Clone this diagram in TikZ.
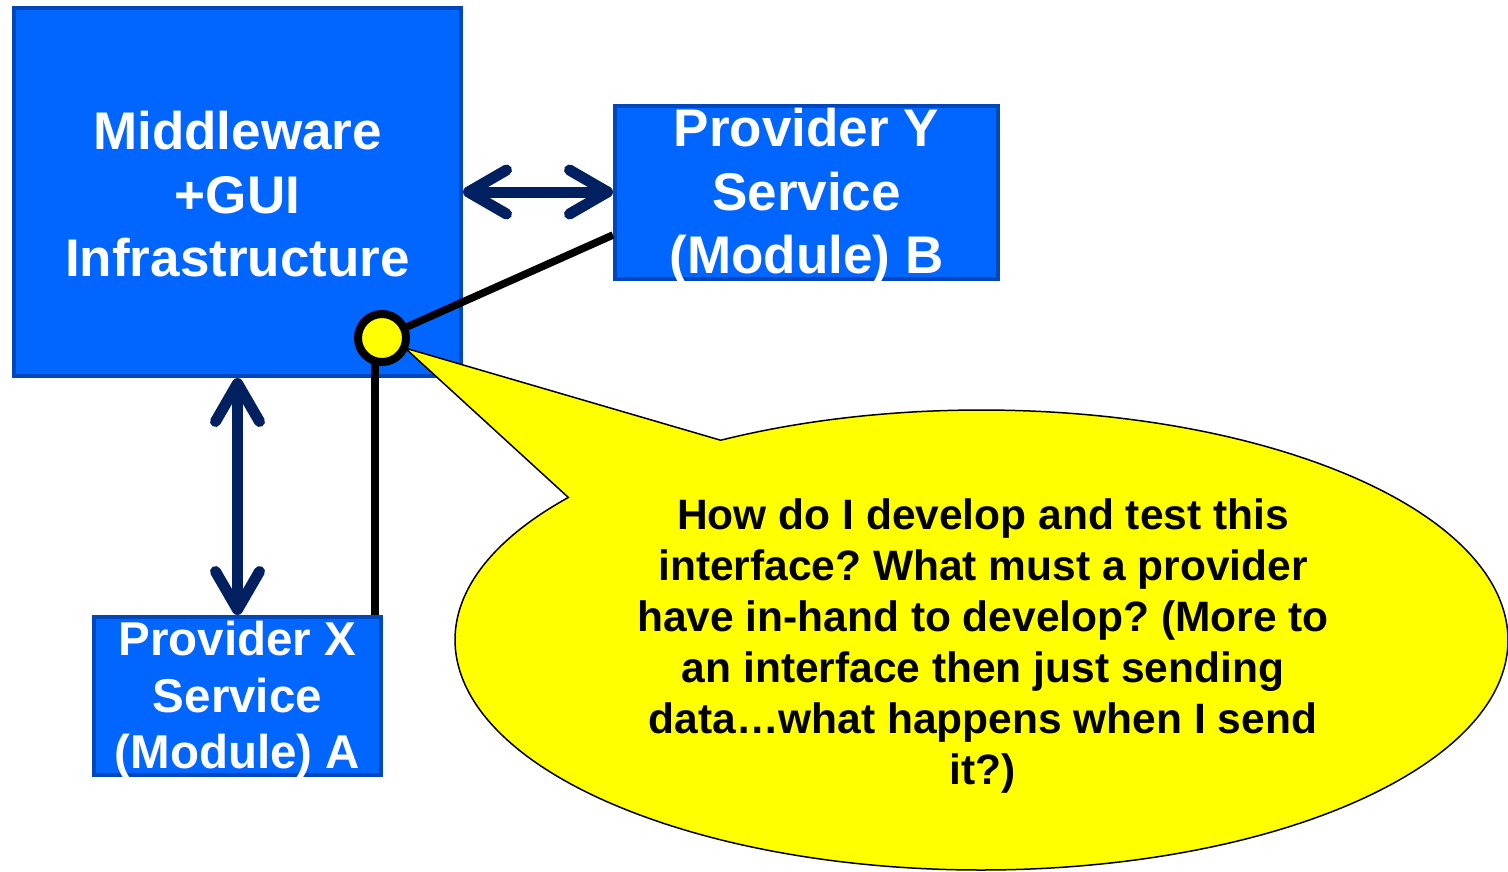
\documentclass[tikz,border=0pt]{standalone}
\usepackage{fontspec}
\setmainfont{Liberation Sans}
\usetikzlibrary{arrows.meta,calc}
\definecolor{boxfill}{HTML}{0066FF}
\definecolor{boxline}{HTML}{0047BB}
\definecolor{navy}{HTML}{002060}
\definecolor{noteyellow}{HTML}{FFFF00}
\frenchspacing
\begin{document}
\begin{tikzpicture}[x=1pt,y=-1pt,
  module/.style={draw=boxline, line width=4pt, fill=boxfill, inner sep=0pt},
  boxtext/.style={text=white, font=\bfseries\fontsize{53}{63.5}\selectfont, align=center, inner sep=0pt},
  smalltext/.style={text=white, font=\bfseries\fontsize{47.5}{56.5}\selectfont, align=center, inner sep=0pt},
  link/.style={navy, line width=11pt,
    {Straight Barb[length=38pt, width=44pt, round]}-{Straight Barb[length=38pt, width=44pt, round]}},
  wire/.style={black, line width=7.5pt},
  port/.style={circle, draw=black, line width=8pt, fill=noteyellow, minimum size=48pt, inner sep=0pt},
  callout/.style={draw=black, line width=1.5pt, fill=noteyellow},
  notetext/.style={font=\bfseries\fontsize{42.5}{51}\selectfont, align=center, inner sep=0pt}
]
\useasboundingbox (0,0) rectangle (1508,871);

% service boxes
\node[module, minimum width=447, minimum height=368,
      label={[boxtext, yshift=-2.5pt]center:Middleware\\+GUI\\Infrastructure}] (mw) at (237.5,192) {};
\node[module, minimum width=383, minimum height=173,
      label={[boxtext, yshift=-4pt]center:Provider Y\\Service\\(Module) B}] (provY) at (806.5,192.5) {};
\node[module, minimum width=287, minimum height=158,
      label={[smalltext, yshift=-4pt]center:Provider X\\Service\\(Module) A}] (provX) at (237.5,696) {};

% message flows
\draw[link] (mw.east) -- (mw.east -| provY.west);
\draw[link] (mw.south) -- (provX.north);

% interface wiring
\coordinate (portc) at (382,338);
\coordinate (ywire) at ($(provY.west)+(0,42.5)$);
\coordinate (xwire) at ($(provX.north east)+(-8,0)$);
\draw[wire] (portc) -- (ywire);
\draw[wire] (portc -| xwire) -- (xwire);

% speech bubble
\coordinate (cc) at (981.5,640);
\coordinate (tip) at (405,348);
\draw[callout] (tip) -- ($(cc)+(218.3:526.5 and 230)$)
  arc[start angle=218.3, end angle=-119.7, x radius=526.5, y radius=230] -- cycle;
\node[notetext] (note) at (983,646) {How do I develop and test this\\interface? What must a provider\\have in-hand to develop? (More to\\an interface then just sending\\data…what happens when I send\\it?)};

% interface point
\node[port] (port) at (portc) {};
\end{tikzpicture}
\end{document}
